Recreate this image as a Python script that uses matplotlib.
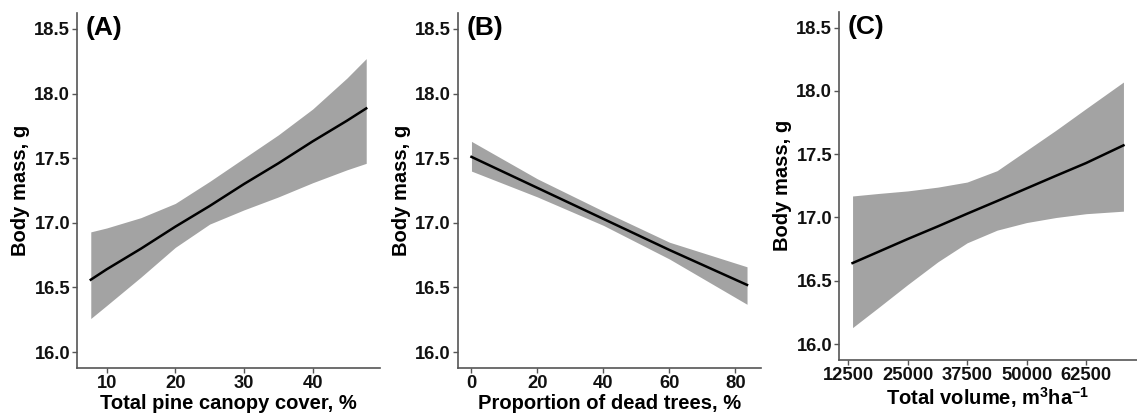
import matplotlib
matplotlib.use("Agg")
import matplotlib.pyplot as plt
import numpy as np

plt.rcParams['font.family'] = ['Liberation Sans', 'DejaVu Sans']
plt.rcParams['font.weight'] = 'bold'
plt.rcParams['mathtext.fontset'] = 'custom'
plt.rcParams['mathtext.rm'] = 'Liberation Sans:bold'
plt.rcParams['mathtext.it'] = 'Liberation Sans:bold'
plt.rcParams['mathtext.bf'] = 'Liberation Sans:bold'

# Panel A: total pine canopy cover
a_x = [7.7, 10, 15, 20, 25, 30, 35, 40, 45, 47.8]
a_fit = [16.56, 16.64, 16.80, 16.97, 17.13, 17.30, 17.46, 17.63, 17.79, 17.885]
a_lo = [16.26, 16.36, 16.58, 16.81, 16.99, 17.10, 17.20, 17.31, 17.41, 17.46]
a_hi = [16.93, 16.96, 17.04, 17.15, 17.32, 17.50, 17.68, 17.88, 18.12, 18.27]

# Panel B: proportion of dead trees
b_x = [0, 20, 40, 60, 83.5]
b_fit = [17.51, 17.27, 17.03, 16.79, 16.52]
b_lo = [17.40, 17.20, 16.98, 16.72, 16.37]
b_hi = [17.63, 17.34, 17.09, 16.85, 16.66]

# Panel C: total volume
c_x = [13400, 18900, 25000, 31350, 37500, 43800, 50000, 56200, 62500, 70370]
c_fit = [16.64, 16.73, 16.83, 16.93, 17.03, 17.13, 17.23, 17.33, 17.43, 17.57]
c_lo = [16.13, 16.29, 16.47, 16.65, 16.80, 16.90, 16.96, 17.00, 17.03, 17.05]
c_hi = [17.17, 17.19, 17.21, 17.24, 17.28, 17.37, 17.53, 17.69, 17.86, 18.07]

y_ticks = [16.0, 16.5, 17.0, 17.5, 18.0, 18.5]
a_ticks = [10, 20, 30, 40]
b_ticks = [0, 20, 40, 60, 80]
c_ticks = [12500, 25000, 37500, 50000, 62500]

W, H = 1137, 415
fig = plt.figure(figsize=(W / 100, H / 100), dpi=100)

def px_axes(left, right, top, bottom):
    return fig.add_axes([left / W, 1 - bottom / H, (right - left) / W, (bottom - top) / H])

axA = px_axes(77, 380, 12.7, 368.3)
axB = px_axes(457.7, 760.8, 12.7, 368.3)
axC = px_axes(839, 1137, 11.8, 359.9)

band_col = '#A3A3A3'
axis_col = '#555555'

def style(ax, x, fit, lo, hi, xticks, xlabel, tag):
    ax.fill_between(x, lo, hi, color=band_col, linewidth=0)
    ax.plot(x, fit, color='black', linewidth=1.8)
    rng = x[-1] - x[0]
    ax.set_xlim(x[0] - 0.05 * rng, x[-1] + 0.05 * rng)
    ax.set_ylim(15.875, 18.625)
    ax.set_yticks(y_ticks)
    ax.set_yticklabels([f"{v:.1f}" for v in y_ticks])
    ax.set_xticks(xticks)
    ax.set_xticklabels([str(v) for v in xticks])
    for s in ['top', 'right']:
        ax.spines[s].set_visible(False)
    for s in ['left', 'bottom']:
        ax.spines[s].set_color(axis_col)
        ax.spines[s].set_linewidth(1.2)
    ax.tick_params(axis='both', length=3.5, width=1.0, color=axis_col,
                   labelsize=13.2, labelcolor='#111111', pad=1.5)
    for lab in ax.get_xticklabels() + ax.get_yticklabels():
        lab.set_fontweight('bold')
    ax.set_ylabel('Body mass, g', fontsize=14.5, fontweight='bold', labelpad=3)
    ax.set_xlabel(xlabel, fontsize=14.5, fontweight='bold', labelpad=1)
    ax.text(0.03, 0.99, tag, transform=ax.transAxes, fontsize=19,
            fontweight='bold', va='top', ha='left')

style(axA, a_x, a_fit, a_lo, a_hi, a_ticks, 'Total pine canopy cover, %', '(A)')
style(axB, b_x, b_fit, b_lo, b_hi, b_ticks, 'Proportion of dead trees, %', '(B)')
style(axC, c_x, c_fit, c_lo, c_hi, c_ticks,
      r'Total volume, $\mathregular{m^3ha^{-1}}$', '(C)')

fig.savefig('out.png', dpi=100)
